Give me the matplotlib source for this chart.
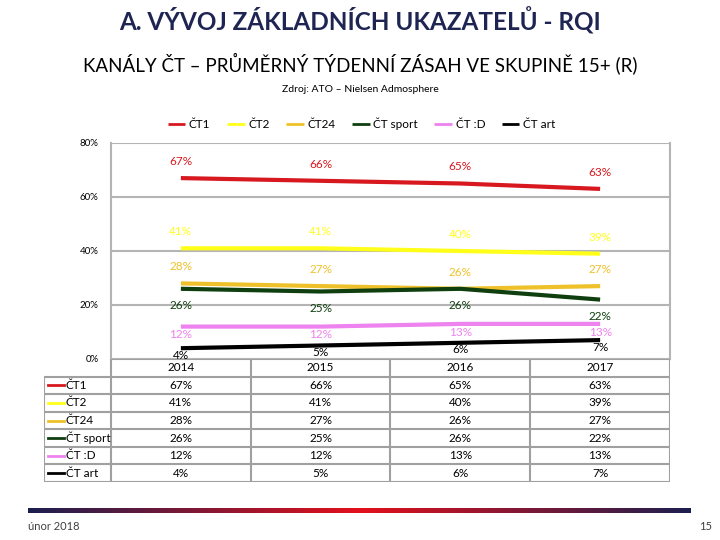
import matplotlib
matplotlib.use("Agg")
import matplotlib.pyplot as plt
import numpy as np
from matplotlib.colors import LinearSegmentedColormap

plt.rcParams['font.family'] = ['Lato', 'DejaVu Sans']

# data
years = ["2014", "2015", "2016", "2017"]
channels = ["ČT1", "ČT2", "ČT24", "ČT sport", "ČT :D", "ČT art"]
ct1 = [67, 66, 65, 63]
ct2 = [41, 41, 40, 39]
ct24 = [28, 27, 26, 27]
ct_sport = [26, 25, 26, 22]
ct_d = [12, 12, 13, 13]
ct_art = [4, 5, 6, 7]
series = [ct1, ct2, ct24, ct_sport, ct_d, ct_art]
colors = ["#d7181f", "#ffff1a", "#eec12a", "#0f3f0f", "#ee82ee", "#000000"]
label_offsets = [12, 12, 12, -12, -6, -5]   # v bodech, nad/pod čarou

W, H = 720, 540
fig = plt.figure(figsize=(7.2, 5.4), dpi=100)

def fbox(x0, y0, x1, y1):
    return [x0 / W, 1 - y1 / H, (x1 - x0) / W, (y1 - y0) / H]

navy = "#1f2553"
fig.text(0.5, 1 - 21 / H, "A. VÝVOJ ZÁKLADNÍCH UKAZATELŮ - RQI", ha="center", va="center",
         fontsize=17.5, fontweight="bold", color=navy)
fig.text(0.5, 1 - 63 / H, "KANÁLY ČT – PRŮMĚRNÝ TÝDENNÍ ZÁSAH VE SKUPINĚ 15+ (R)", ha="center",
         va="center", fontsize=13.5, color="black")
fig.text(0.5, 1 - 90 / H, "Zdroj: ATO – Nielsen Admosphere", ha="center", va="center",
         fontsize=7.5, color="black")

# graf
ax = fig.add_axes(fbox(111, 143, 670, 359))
x = np.arange(len(years))
for vals, c, name, off in zip(series, colors, channels, label_offsets):
    ax.plot(x, vals, color=c, lw=3, label=name, solid_capstyle="butt")
    for xi, v in zip(x, vals):
        ax.annotate(f"{v}%", (xi, v), xytext=(0, off), textcoords="offset points",
                    ha="center", va="center", fontsize=8.5, color=c)
ax.set_xlim(-0.5, 3.5)
ax.set_ylim(0, 80)
ax.set_yticks([0, 20, 40, 60, 80])
ax.set_yticklabels(["0%", "20%", "40%", "60%", "80%"], fontsize=7)
ax.tick_params(axis="y", length=0, pad=9)
ax.set_xticks([])
ax.grid(axis="y", color="#b4b4b4", lw=1.5)
ax.set_axisbelow(True)
for s in ["left", "right"]:
    ax.spines[s].set_color("#b4b4b4")
    ax.spines[s].set_linewidth(1.5)
ax.spines["top"].set_visible(False)
ax.spines["bottom"].set_visible(False)

leg = fig.legend(ncol=6, loc="center", bbox_to_anchor=(0.502, 1 - 124 / H), frameon=False,
                 fontsize=8.5, handlelength=1.5, handletextpad=0.3, columnspacing=1.4)
for h in leg.get_lines():
    h.set_linewidth(2)

# tabulka
tx = fig.add_axes(fbox(44, 359, 670, 482))
lw0 = 67 / 140
tx.set_xlim(-lw0, 4)
tx.set_ylim(7, 0)
tx.axis("off")
gc = "#a0a0a0"
tx.hlines(0, 0, 4, color=gc, lw=1.5)
for r in range(1, 8):
    tx.hlines(r, -lw0, 4, color=gc, lw=1.5)
for cx in range(0, 5):
    tx.vlines(cx, 0, 7, color=gc, lw=1.5)
tx.vlines(-lw0, 1, 7, color=gc, lw=1.5)
for i, yr in enumerate(years):
    tx.text(i + 0.5, 0.5, yr, ha="center", va="center", fontsize=8.5)
for r, (name, vals, c) in enumerate(zip(channels, series, colors), start=1):
    tx.plot([-lw0 + 0.03, -lw0 + 0.145], [r + 0.5, r + 0.5], color=c, lw=2)
    tx.text(-lw0 + 0.155, r + 0.5, name, ha="left", va="center", fontsize=8.5)
    for i, v in enumerate(vals):
        tx.text(i + 0.5, r + 0.5, f"{v}%", ha="center", va="center", fontsize=8.5)

# spodní pruh
bx = fig.add_axes(fbox(28, 508, 691, 513))
cmap = LinearSegmentedColormap.from_list("bar", ["#1c1f4f", "#e3101c", "#1c1f4f"])
bx.imshow(np.linspace(0, 1, 256)[None, :], aspect="auto", cmap=cmap)
bx.axis("off")

fig.text(28 / W, 1 - 527 / H, "únor 2018", ha="left", va="center", fontsize=8, color="#404040")
fig.text(712 / W, 1 - 527 / H, "15", ha="right", va="center", fontsize=8, color="#404040")

fig.savefig("out.png", dpi=100)
